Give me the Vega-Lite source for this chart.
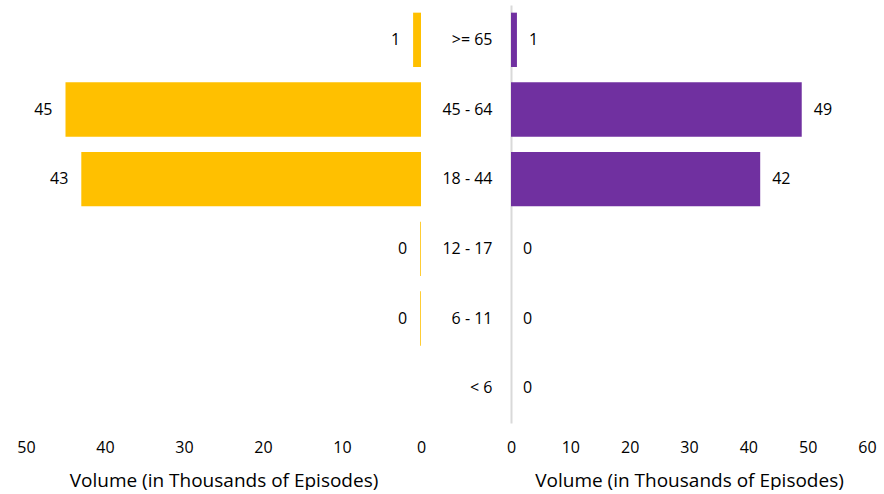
{
  "$schema": "https://vega.github.io/schema/vega-lite/v6.json",
  "padding": {"left": 16, "top": 5, "right": 5, "bottom": 0},
  "spacing": 90,
  "bounds": "flush",
  "config": {
    "view": {"stroke": null},
    "font": "Open Sans",
    "axis": {
      "labelFont": "Open Sans",
      "titleFont": "Open Sans",
      "labelFontSize": 16,
      "titleFontSize": 19,
      "titleFontWeight": "normal",
      "labelColor": "#000000",
      "titleColor": "#000000",
      "grid": false,
      "ticks": false,
      "labelFlush": false
    },
    "text": {"font": "Open Sans", "fontSize": 16, "color": "#000000"}
  },
  "data": {
    "values": [
      {"age": ">= 65", "group": "A", "volume": 1},
      {"age": "45 - 64", "group": "A", "volume": 45},
      {"age": "18 - 44", "group": "A", "volume": 43},
      {"age": "12 - 17", "group": "A", "volume": 0.1},
      {"age": "6 - 11", "group": "A", "volume": 0.1},
      {"age": ">= 65", "group": "B", "volume": 1},
      {"age": "45 - 64", "group": "B", "volume": 49},
      {"age": "18 - 44", "group": "B", "volume": 42},
      {"age": "12 - 17", "group": "B", "volume": 0},
      {"age": "6 - 11", "group": "B", "volume": 0},
      {"age": "< 6", "group": "B", "volume": 0}
    ]
  },
  "hconcat": [
    {
      "width": 395,
      "height": 418,
      "transform": [{"filter": "datum.group === 'A'"}],
      "encoding": {
        "y": {
          "field": "age",
          "type": "nominal",
          "scale": {
            "domain": [">= 65", "45 - 64", "18 - 44", "12 - 17", "6 - 11", "< 6"],
            "paddingInner": 0.22,
            "paddingOuter": 0.11
          },
          "axis": null
        },
        "x": {
          "field": "volume",
          "type": "quantitative",
          "scale": {"domain": [0, 50], "reverse": true},
          "axis": {
            "values": [0, 10, 20, 30, 40, 50],
            "domain": false,
            "labelPadding": 16,
            "title": "Volume (in Thousands of Episodes)",
            "titlePadding": 16
          }
        }
      },
      "layer": [
        {"mark": {"type": "bar", "color": "#FFC000"}},
        {
          "mark": {"type": "text", "align": "right", "baseline": "middle", "dx": -13},
          "encoding": {"text": {"field": "volume", "type": "quantitative", "format": ".0f"}}
        }
      ]
    },
    {
      "width": 356,
      "height": 418,
      "transform": [{"filter": "datum.group === 'B'"}],
      "encoding": {
        "y": {
          "field": "age",
          "type": "nominal",
          "scale": {
            "domain": [">= 65", "45 - 64", "18 - 44", "12 - 17", "6 - 11", "< 6"],
            "paddingInner": 0.22,
            "paddingOuter": 0.11
          },
          "axis": {
            "title": null,
            "domain": true,
            "domainColor": "#d9d9d9",
            "domainWidth": 2,
            "labelPadding": 19,
            "labelAlign": "right"
          }
        },
        "x": {
          "field": "volume",
          "type": "quantitative",
          "scale": {"domain": [0, 60]},
          "axis": {
            "values": [0, 10, 20, 30, 40, 50, 60],
            "domain": false,
            "labelPadding": 16,
            "title": "Volume (in Thousands of Episodes)",
            "titlePadding": 16
          }
        }
      },
      "layer": [
        {"mark": {"type": "bar", "color": "#7030A0"}},
        {
          "mark": {"type": "text", "align": "left", "baseline": "middle", "dx": 12},
          "encoding": {"text": {"field": "volume", "type": "quantitative", "format": ".0f"}}
        }
      ]
    }
  ]
}
